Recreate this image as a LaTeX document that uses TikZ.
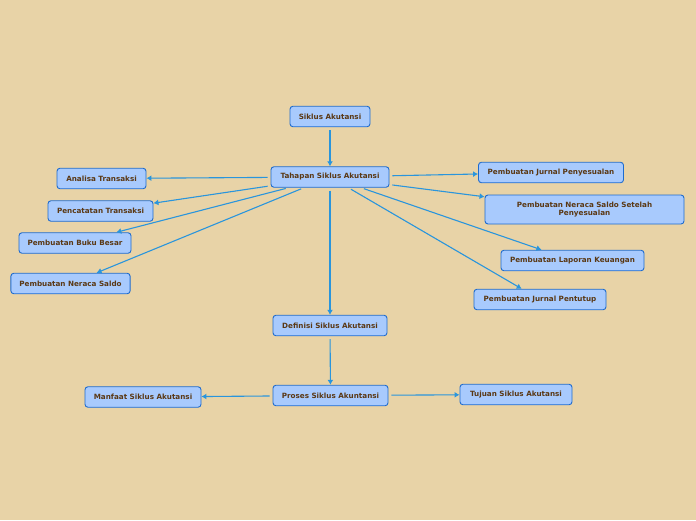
\documentclass[tikz,border=0pt]{standalone}
\usepackage{fontspec}
\setmainfont{DejaVu Sans}
\usetikzlibrary{arrows.meta}
\definecolor{mapbg}{HTML}{E8D3A7}
\definecolor{boxfill}{HTML}{A8CAFD}
\definecolor{boxline}{HTML}{1E6BCF}
\definecolor{linkblue}{HTML}{2A95DC}
\definecolor{textbrown}{HTML}{5A3814}

\begin{document}
\begin{tikzpicture}[x=1pt, y=-1pt,
        topic/.style={draw=boxline, line width=0.9pt, rounded corners=3pt, fill=boxfill,
                      minimum height=20.5pt, inner xsep=8.5pt, align=center,
                      text=textbrown, font=\bfseries\fontsize{7.2}{8.4}\selectfont},
        link/.style={-{Latex[length=5pt,width=6pt]}, line width=1.1pt, linkblue,
                     shorten <=3pt}
    ]
        \fill[mapbg] (0,0) rectangle (696,520);
        \useasboundingbox (0,0) rectangle (696,520);
        % main column
        \node[topic, minimum width=80pt] (siklus) at (330,116.5) {Siklus Akutansi};
        \node[topic, minimum width=118pt] (tahapan) at (330,177) {Tahapan Siklus Akutansi};
        \node[topic, minimum width=114pt] (definisi) at (330,325.5) {Definisi Siklus Akutansi};
        \node[topic, minimum width=115pt] (proses) at (330.5,395.5) {Proses Siklus Akuntansi};
        % left branches
        \node[topic, minimum width=89pt] (analisa) at (101.5,178.5) {Analisa Transaksi};
        \node[topic, minimum width=105pt] (pencatatan) at (100.5,211) {Pencatatan Transaksi};
        \node[topic, minimum width=112pt] (bukubesar) at (75,243) {Pembuatan Buku Besar};
        \node[topic, minimum width=119pt] (neraca) at (70.5,283.5) {Pembuatan Neraca Saldo};
        % right branches
        \node[topic, minimum width=145pt] (jurnal) at (551,172.5) {Pembuatan Jurnal Penyesualan};
        \node[topic, text width=182pt, minimum height=29pt] (nerasetelah) at (584.5,209.5)
            {Pembuatan Neraca Saldo Setelah\\Penyesualan};
        \node[topic, minimum width=143pt] (laporan) at (572.5,260.5) {Pembuatan Laporan Keuangan};
        \node[topic, minimum width=132pt] (penutup) at (540,299.5) {Pembuatan Jurnal Pentutup};
        % bottom row
        \node[topic, minimum width=116pt] (manfaat) at (143,397) {Manfaat Siklus Akutansi};
        \node[topic, minimum width=112pt] (tujuan) at (516,394.5) {Tujuan Siklus Akutansi};
        \draw[link] (siklus) -- (tahapan);
        \draw[link] (tahapan) -- (analisa);
        \draw[link] (tahapan) -- (pencatatan);
        \draw[link] (tahapan) -- (bukubesar);
        \draw[link] (tahapan) -- (neraca);
        \draw[link] (tahapan) -- (jurnal);
        \draw[link] (tahapan) -- (nerasetelah);
        \draw[link] (tahapan) -- (laporan);
        \draw[link] (tahapan) -- (penutup);
        \draw[link] (tahapan) -- (definisi);
        \draw[link] (definisi) -- (proses);
        \draw[link] (proses) -- (manfaat);
        \draw[link] (proses) -- (tujuan);
    \end{tikzpicture}
\end{document}
